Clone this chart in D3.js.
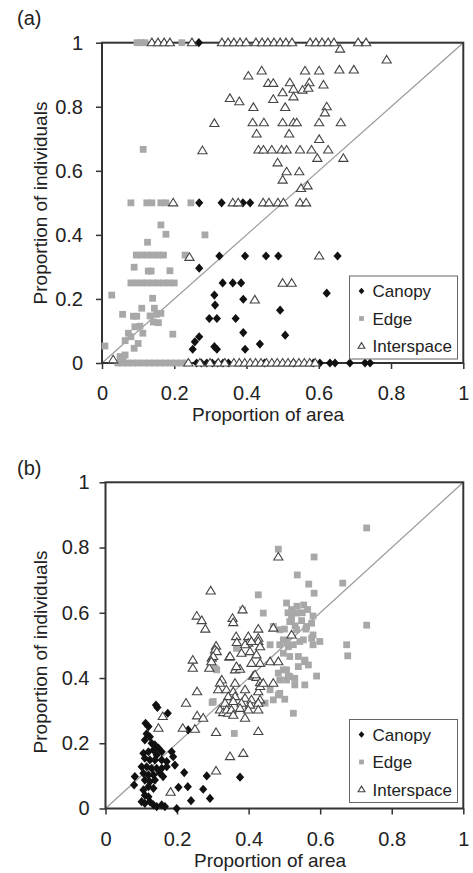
<!DOCTYPE html>
<meta charset="utf-8">
<html lang="en">
<head>
<style>
  body { margin: 0; background: #fff; }
  svg { display: block; font-family: "Liberation Sans", Arial, Helvetica, sans-serif; }
  .tick text { font-size: 20px; fill: #222; }
  .tick line { stroke: #333; stroke-width: 1.5px; }
  .frame { fill: none; stroke: #333; stroke-width: 2px; }
  .diag { stroke: #999; stroke-width: 1.2px; }
  .canopy { fill: #111; }
  .edge { fill: #a8a8a8; }
  .inter { fill: #fff; stroke: #444; stroke-width: 1.1px; }
  .title { font-size: 19px; fill: #222; }
  .plabel { font-size: 20px; fill: #222; }
  .legend rect { fill: #fff; stroke: #666; stroke-width: 1px; }
  .legend text { font-size: 17px; fill: #222; }
</style>
</head>
<body>
<script src="https://cdn.jsdelivr.net/npm/d3@7"></script>
<script>

var ticks = [0, 0.2, 0.4, 0.6, 0.8, 1];
var seriesNames = ["Canopy", "Edge", "Interspace"];
var panelLabels = ["(a)", "(b)"];
var xTitle = "Proportion of area",
    yTitle = "Proportion of individuals";

// panel (a): [proportion of area, proportion of individuals]
var canopyA = [
  [0.268,1],
  [0.269,0.5],[0.331,0.5],[0.39,0.5],[0.41,0.5],
  [0.325,0.334],[0.396,0.334],[0.454,0.334],[0.488,0.334],[0.652,0.334],
  [0.269,0.296],
  [0.334,0.25],[0.362,0.25],[0.385,0.25],
  [0.311,0.212],[0.313,0.181],[0.391,0.199],[0.622,0.218],[0.493,0.165],
  [0.297,0.139],[0.318,0.139],[0.370,0.139],
  [0.391,0.095],[0.507,0.087],
  [0.269,0.082],[0.257,0.066],[0.251,0.043],[0.311,0.051],[0.318,0.043],[0.396,0.043],[0.437,0.059],
  [0.262,0],[0.275,0],[0.29,0],[0.305,0],[0.32,0],[0.335,0],[0.35,0],[0.45,0],[0.53,0],
  [0.585,0],[0.603,0],[0.631,0],[0.645,0],[0.686,0],[0.728,0],[0.742,0]
];

var edgeA = [
  [0.097,1],[0.108,1],[0.119,1],[0.221,1],
  [0.114,0.667],
  [0.080,0.5],[0.124,0.5],[0.138,0.5],[0.163,0.5],[0.177,0.5],[0.246,0.5],
  [0.163,0.431],[0.177,0.402],[0.126,0.377],[0.285,0.4],
  [0.095,0.337],[0.11,0.337],[0.125,0.337],[0.14,0.337],[0.155,0.337],[0.17,0.337],[0.23,0.337],
  [0.089,0.299],[0.128,0.287],[0.136,0.287],[0.188,0.288],
  [0.08,0.25],[0.095,0.25],[0.11,0.25],[0.125,0.25],[0.14,0.25],[0.155,0.25],[0.17,0.25],[0.185,0.25],[0.2,0.25],
  [0.027,0.212],[0.140,0.202],[0.057,0.152],[0.110,0.171],[0.145,0.171],[0.087,0.146],[0.096,0.146],
  [0.133,0.147],[0.151,0.152],[0.163,0.155],[0.156,0.126],[0.142,0.128],[0.091,0.113],[0.105,0.115],
  [0.113,0.093],[0.073,0.093],[0.080,0.082],[0.064,0.070],[0.100,0.061],[0.089,0.046],[0.196,0.090],
  [0.008,0.053],[0.05,0.02],[0.058,0.012],[0.064,0.025],
  [0.044,0],[0.055,0],[0.07,0],[0.085,0],[0.1,0],[0.115,0],[0.13,0],[0.145,0],[0.16,0],[0.175,0],
  [0.19,0],[0.205,0],[0.22,0],[0.235,0]
];

var interA = [
  [0.138,1],[0.155,1],[0.172,1],[0.188,1],[0.249,1],[0.332,1],[0.349,1],[0.365,1],[0.382,1],[0.399,1],
  [0.426,1],[0.443,1],[0.459,1],[0.476,1],[0.493,1],[0.509,1],[0.526,1],[0.576,1],[0.592,1],[0.609,1],
  [0.626,1],[0.642,1],[0.709,1],[0.731,1],[0.659,0.98],
  [0.788,0.946],[0.405,0.896],[0.442,0.912],[0.562,0.912],[0.601,0.912],[0.657,0.915],[0.697,0.915],
  [0.460,0.873],[0.474,0.873],[0.520,0.875],[0.574,0.875],[0.613,0.868],
  [0.500,0.844],[0.530,0.855],[0.555,0.852],[0.571,0.858],[0.530,0.831],[0.474,0.823],[0.380,0.816],[0.354,0.826],
  [0.419,0.798],[0.507,0.798],[0.622,0.800],[0.617,0.781],
  [0.311,0.748],[0.417,0.75],[0.448,0.75],[0.500,0.75],[0.530,0.75],[0.539,0.75],[0.601,0.75],[0.661,0.75],
  [0.428,0.715],[0.518,0.715],[0.601,0.698],
  [0.278,0.663],[0.433,0.665],[0.447,0.665],[0.470,0.665],[0.497,0.665],[0.511,0.665],[0.548,0.665],
  [0.580,0.665],[0.626,0.665],
  [0.596,0.639],[0.668,0.639],[0.486,0.625],[0.511,0.597],[0.546,0.597],[0.500,0.571],[0.551,0.545],[0.569,0.553],
  [0.197,0.5],[0.362,0.5],[0.377,0.5],[0.446,0.5],[0.462,0.5],[0.487,0.5],[0.502,0.5],[0.548,0.5],[0.565,0.5],
  [0.242,0.330],[0.601,0.334],[0.500,0.249],[0.525,0.249],[0.423,0.197],[0.031,0.01],
  [0.239,0],[0.271,0],[0.299,0],[0.322,0],[0.340,0],[0.365,0],[0.38,0],[0.395,0],[0.41,0],[0.425,0],
  [0.44,0],[0.455,0],[0.47,0],[0.485,0],[0.5,0],[0.515,0],[0.53,0],[0.545,0],[0.56,0],[0.575,0],[0.59,0]
];

// panel (b)
var canopyB = [
  [0.141,0.317],[0.145,0.310],[0.174,0.292],[0.112,0.261],[0.120,0.251],[0.115,0.229],[0.124,0.220],
  [0.110,0.210],[0.231,0.241],
  [0.129,0.200],[0.138,0.195],[0.148,0.185],[0.134,0.179],[0.120,0.174],[0.106,0.169],[0.157,0.174],
  [0.143,0.164],[0.110,0.154],[0.124,0.149],[0.138,0.149],[0.157,0.149],[0.171,0.144],[0.185,0.174],
  [0.189,0.159],[0.101,0.128],[0.115,0.128],[0.129,0.123],[0.143,0.123],[0.157,0.123],[0.171,0.128],
  [0.194,0.133],[0.106,0.108],[0.120,0.103],[0.134,0.103],[0.152,0.108],[0.161,0.098],[0.110,0.087],
  [0.124,0.082],[0.138,0.087],[0.120,0.067],[0.134,0.062],[0.106,0.057],[0.110,0.041],[0.120,0.036],
  [0.101,0.021],[0.110,0.016],[0.124,0.021],[0.134,0.011],[0.157,0.011],[0.143,0.006],[0.166,0.006],
  [0.082,0.098],[0.080,0.072],[0.199,0.0],
  [0.220,0.110],[0.204,0.065],[0.230,0.067],[0.239,0.024],[0.273,0.059],[0.283,0.100],[0.292,0.031],
  [0.376,0.096]
];

var edgeB = [
  [0.730,0.860],[0.483,0.795],[0.583,0.771],[0.536,0.716],[0.568,0.688],[0.663,0.691],[0.583,0.660],
  [0.427,0.655],[0.554,0.624],[0.441,0.599],[0.383,0.609],[0.520,0.594],[0.534,0.599],[0.520,0.578],
  [0.548,0.576],[0.576,0.568],[0.730,0.562],
  [0.506,0.63],[0.52,0.61],[0.535,0.62],[0.51,0.6],[0.55,0.6],[0.565,0.61],[0.58,0.59],[0.53,0.56],
  [0.56,0.55],[0.5,0.55],
  [0.599,0.512],[0.553,0.517],[0.576,0.522],[0.674,0.502],[0.677,0.468],
  [0.469,0.558],[0.487,0.548],[0.515,0.573],[0.534,0.548],[0.562,0.558],[0.580,0.532],
  [0.497,0.517],[0.511,0.496],[0.525,0.502],[0.460,0.502],[0.487,0.502],[0.506,0.512],[0.543,0.512],
  [0.580,0.502],
  [0.497,0.476],[0.515,0.466],[0.557,0.455],[0.567,0.440],[0.539,0.435],[0.539,0.466],[0.557,0.450],
  [0.506,0.425],[0.483,0.415],[0.515,0.404],[0.529,0.399],[0.590,0.406],[0.557,0.379],[0.506,0.394],
  [0.487,0.394],[0.529,0.379],[0.497,0.425],[0.511,0.406],
  [0.487,0.353],[0.501,0.335],[0.525,0.292],[0.460,0.364],[0.446,0.323],[0.483,0.348],[0.469,0.333],
  [0.306,0.430],[0.301,0.328],[0.357,0.333],[0.311,0.425],[0.366,0.491],[0.360,0.230],[0.298,0.325]
];

var interB = [
  [0.294,0.667],[0.255,0.590],[0.269,0.576],[0.279,0.550],[0.355,0.583],[0.357,0.570],[0.483,0.771],
  [0.383,0.609],[0.427,0.550],[0.469,0.553],[0.520,0.532],
  [0.365,0.527],[0.399,0.527],[0.427,0.522],[0.367,0.509],[0.399,0.507],[0.427,0.512],[0.309,0.498],
  [0.306,0.486],[0.390,0.502],[0.408,0.512],[0.432,0.496],
  [0.380,0.476],[0.404,0.481],[0.422,0.471],[0.346,0.464],
  [0.244,0.455],[0.244,0.430],[0.290,0.430],[0.297,0.461],
  [0.408,0.445],[0.432,0.445],[0.460,0.450],[0.483,0.450],
  [0.362,0.425],[0.376,0.427],[0.413,0.406],[0.422,0.402],
  [0.325,0.394],[0.320,0.384],[0.362,0.384],[0.390,0.364],[0.432,0.386],[0.469,0.384],
  [0.256,0.358],[0.315,0.364],[0.338,0.364],[0.357,0.358],[0.427,0.358],[0.432,0.374],
  [0.343,0.343],[0.362,0.343],[0.390,0.338],[0.408,0.333],[0.432,0.333],
  [0.334,0.323],[0.357,0.328],[0.380,0.323],[0.404,0.317],[0.427,0.323],
  [0.320,0.302],[0.329,0.294],[0.343,0.292],[0.376,0.307],[0.399,0.302],[0.427,0.302],
  [0.390,0.277],[0.225,0.323],[0.256,0.284],[0.273,0.277],[0.216,0.246],[0.250,0.243],[0.309,0.233],
  [0.427,0.236],[0.311,0.481],[0.301,0.466],[0.296,0.450],[0.348,0.466],[0.366,0.435],
  [0.418,0.410],[0.441,0.384],[0.339,0.302],[0.352,0.302],[0.357,0.286],
  [0.160,0.282],[0.148,0.246],[0.348,0.159],[0.385,0.169],[0.309,0.115],[0.182,0.050]
];

var W = 473, H = 873;

var svg = d3.select("body").append("svg")
  .attr("width", W)
  .attr("height", H);

var panels = [
  { label: panelLabels[0], x0: 102, x1: 463.3, y0: 363, y1: 42.7, pad: 13, labelY: 25, xTitleX: 268, xTitleY: 421, yTitleY: 203,
    legendTop: 276, canopy: canopyA, edge: edgeA, inter: interA },
  { label: panelLabels[1], x0: 105.5, x1: 463.3, y0: 808.5, y1: 482.3, pad: 10, labelY: 475, xTitleX: 270, xTitleY: 867, yTitleY: 652,
    legendTop: 719.5, canopy: canopyB, edge: edgeB, inter: interB }
];

function diamond(w, h) { return "M0," + (-h) + "L" + w + ",0L0," + h + "L" + (-w) + ",0Z"; }
function square(s) { return "M" + (-s) + "," + (-s) + "h" + (2 * s) + "v" + (2 * s) + "h" + (-2 * s) + "Z"; }
function triangle(w, h) { return "M0," + (-h * 0.6) + "L" + w + "," + (h * 0.4) + "L" + (-w) + "," + (h * 0.4) + "Z"; }

panels.forEach(function(p) {
  var x = d3.scaleLinear().domain([0, 1]).range([p.x0, p.x1]),
      y = d3.scaleLinear().domain([0, 1]).range([p.y0, p.y1]);

  var g = svg.append("g");

  g.append("line")
    .attr("class", "diag")
    .attr("x1", x(0)).attr("y1", y(0))
    .attr("x2", x(1)).attr("y2", y(1));

  var ya = g.append("g")
    .attr("transform", "translate(" + p.x0 + ",0)")
    .call(d3.axisLeft(y).tickValues(ticks).tickSize(6).tickPadding(p.pad).tickFormat(d3.format("~g")));
  ya.select(".domain").remove();

  var xa = g.append("g")
    .attr("transform", "translate(0," + p.y0 + ")")
    .call(d3.axisBottom(x).tickValues(ticks).tickSize(6).tickPadding(17).tickFormat(d3.format("~g")));
  xa.select(".domain").remove();

  g.append("rect")
    .attr("class", "frame")
    .attr("x", x(0)).attr("y", y(1))
    .attr("width", x(1) - x(0))
    .attr("height", y(0) - y(1));

  g.selectAll(".edge")
    .data(p.edge)
    .enter().append("path")
    .attr("class", "edge")
    .attr("d", square(3.4))
    .attr("transform", function(d) { return "translate(" + x(d[0]) + "," + y(d[1]) + ")"; });

  g.selectAll(".canopy")
    .data(p.canopy)
    .enter().append("path")
    .attr("class", "canopy")
    .attr("d", diamond(4.1, 4.6))
    .attr("transform", function(d) { return "translate(" + x(d[0]) + "," + y(d[1]) + ")"; });

  g.selectAll(".inter")
    .data(p.inter)
    .enter().append("path")
    .attr("class", "inter")
    .attr("d", triangle(4.6, 7.6))
    .attr("transform", function(d) { return "translate(" + x(d[0]) + "," + y(d[1]) + ")"; });

  // legend
  var lg = g.append("g").attr("class", "legend")
    .attr("transform", "translate(349.5," + p.legendTop + ")");
  lg.append("rect").attr("width", 108).attr("height", 83);
  var item = lg.selectAll(".item")
    .data(seriesNames)
    .enter().append("g")
    .attr("class", "item")
    .attr("transform", function(d, i) { return "translate(12," + (15 + i * 27.5) + ")"; });
  item.append("path")
    .attr("class", function(d, i) { return ["canopy", "edge", "inter"][i]; })
    .attr("d", function(d, i) {
      return i === 0 ? diamond(2.9, 3.3) : i === 1 ? square(2.4) : triangle(3.4, 5.6);
    });
  item.append("text")
    .attr("x", 11)
    .attr("dy", "0.36em")
    .text(function(d) { return d; });

  // titles
  g.append("text").attr("class", "plabel").attr("x", 17).attr("y", p.labelY).text(p.label);
  g.append("text").attr("class", "title")
    .attr("text-anchor", "middle")
    .attr("x", p.xTitleX).attr("y", p.xTitleY)
    .text(xTitle);
  g.append("text").attr("class", "title")
    .attr("text-anchor", "middle")
    .attr("transform", "translate(40," + p.yTitleY + ") rotate(-90)")
    .attr("dy", "0.35em")
    .text(yTitle);
});

</script>
</body>
</html>
